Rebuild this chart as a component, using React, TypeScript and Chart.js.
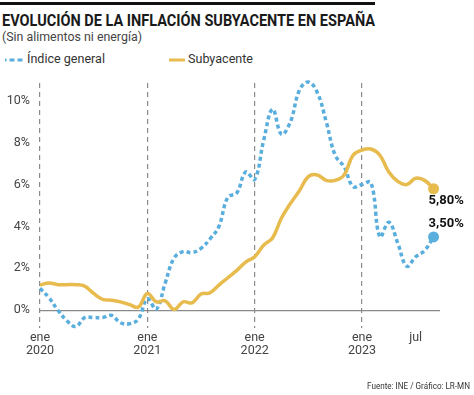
import React, { useEffect, useLayoutEffect, useRef } from "react";
import { Chart, registerables } from "chart.js";

Chart.register(...registerables);

// Monthly data, Jan 2020 .. Sep 2023 (index 0..44)
const generalIndex: number[] = [
  1.05, 0.6, 0.0, -0.5, -0.78, -0.35, -0.35, -0.35, -0.25, -0.6, -0.65, -0.42,
  0.55, 0.05, 1.3, 2.5, 2.8, 2.75, 2.95, 3.4, 4.0, 5.4, 5.6, 6.6,
  6.25, 8.1, 9.6, 8.4, 9.0, 10.5, 10.9, 10.4, 9.0, 7.4, 6.85, 5.9,
  6.0, 6.1, 3.5, 4.2, 3.2, 2.1, 2.55, 2.85, 3.5,
];
const coreIndex: number[] = [
  1.2, 1.3, 1.22, 1.22, 1.22, 1.15, 0.8, 0.52, 0.48, 0.4, 0.27, 0.15,
  0.8, 0.4, 0.45, 0.03, 0.4, 0.35, 0.77, 0.83, 1.2, 1.55, 1.9, 2.3,
  2.55, 3.1, 3.45, 4.4, 5.1, 5.7, 6.38, 6.46, 6.2, 6.2, 6.46, 7.4,
  7.65, 7.7, 7.4, 6.6, 6.15, 6.0, 6.3, 6.2, 5.8,
];
const xTickValues: number[] = [0, 12, 24, 36, 42];
const xTickLabels: string[][] = [
  ["ene", "2020"],
  ["ene", "2021"],
  ["ene", "2022"],
  ["ene", "2023"],
  ["jul"],
];
const yTickValues: number[] = [0, 2, 4, 6, 8, 10];
const seriesNames: string[] = ["Índice general", "Subyacente"];
const endLabels: string[] = ["3,50%", "5,80%"];

const BLUE = "#59AEDD";
const ORANGE = "#E8BB4E";
const FONT = "Roboto, 'Noto Sans', sans-serif";

function FitText(props: { text: string; width: number; left: number; top: number; style: React.CSSProperties }) {
  const ref = useRef<HTMLSpanElement>(null);
  useLayoutEffect(() => {
    const el = ref.current;
    if (!el) return;
    el.style.transform = "none";
    const w = el.getBoundingClientRect().width;
    if (w > 0) el.style.transform = `scaleX(${props.width / w})`;
  }, [props.text, props.width]);
  return (
    <span
      ref={ref}
      style={{
        position: "absolute",
        left: props.left,
        top: props.top,
        display: "inline-block",
        whiteSpace: "nowrap",
        transformOrigin: "left center",
        fontFamily: FONT,
        ...props.style,
      }}
    >
      {props.text}
    </span>
  );
}

const endLabelPlugin = {
  id: "endLabels",
  afterDatasetsDraw(chart: any) {
    const ctx = chart.ctx;
    ctx.save();
    ctx.font = `bold 13px ${FONT}`;
    ctx.fillStyle = "#111";
    ctx.textAlign = "left";
    ctx.textBaseline = "middle";
    chart.data.datasets.forEach((ds: any, i: number) => {
      const meta = chart.getDatasetMeta(i);
      const pt = meta.data[meta.data.length - 1];
      if (!pt) return;
      const dy = ds.label === seriesNames[0] ? -13 : 12;
      ctx.fillText(endLabels[i], pt.x - 5, pt.y + dy);
    });
    ctx.restore();
  },
};

export default function App() {
  const canvasRef = useRef<HTMLCanvasElement>(null);

  useEffect(() => {
    const canvas = canvasRef.current;
    if (!canvas) return;
    const lastIdx = generalIndex.length - 1;
    const radii = (n: number, r: number) => Array.from({ length: n }, (_, i) => (i === n - 1 ? r : 0));
    const chart = new Chart(canvas, {
      type: "line",
      data: {
        datasets: [
          {
            label: seriesNames[0],
            data: generalIndex.map((v, i) => ({ x: i, y: v })),
            borderColor: BLUE,
            backgroundColor: BLUE,
            borderWidth: 3.5,
            borderDash: [4, 3],
            borderCapStyle: "butt",
            tension: 0.4,
            pointRadius: radii(generalIndex.length, 5.5),
            pointBorderWidth: 0,
            pointBackgroundColor: BLUE,
            clip: false,
            order: 2,
          },
          {
            label: seriesNames[1],
            data: coreIndex.map((v, i) => ({ x: i, y: v })),
            borderColor: ORANGE,
            backgroundColor: ORANGE,
            borderWidth: 3.5,
            tension: 0.4,
            pointRadius: radii(coreIndex.length, 5.5),
            pointBorderWidth: 0,
            pointBackgroundColor: ORANGE,
            clip: false,
            order: 1,
          },
        ],
      },
      options: {
        responsive: false,
        animation: false,
        layout: { padding: { left: 0, right: 34, top: 83, bottom: 0 } },
        plugins: {
          legend: { display: false },
          tooltip: { enabled: false },
          title: { display: false },
        },
        scales: {
          x: {
            type: "linear",
            min: 0,
            max: 44.72,
            afterFit: (s: any) => {
              s.height = 67;
            },
            afterBuildTicks: (s: any) => {
              s.ticks = xTickValues.map((v) => ({ value: v }));
            },
            border: { display: false, dash: [5, 4] },
            grid: {
              drawTicks: false,
              color: (c: any) => (c.tick && c.tick.value !== 42 ? "#8a8a8a" : "transparent"),
              lineWidth: 1.2,
              borderDash: [5, 4],
            } as any,
            ticks: {
              padding: 3,
              autoSkip: false,
              maxRotation: 0,
              color: "#444",
              font: { family: FONT, size: 12.5, lineHeight: 1.08 },
              callback: (v: any) => {
                const i = xTickValues.indexOf(Number(v));
                return i >= 0 ? xTickLabels[i] : "";
              },
            },
          },
          y: {
            type: "linear",
            min: -0.85,
            max: 10.85,
            afterFit: (s: any) => {
              s.width = 40;
            },
            afterBuildTicks: (s: any) => {
              s.ticks = yTickValues.map((v) => ({ value: v }));
            },
            border: { display: false },
            grid: {
              drawTicks: false,
              color: (c: any) => (c.tick && c.tick.value === 0 ? "#8a8a8a" : "transparent"),
              lineWidth: 1.2,
            },
            ticks: {
              padding: 10,
              color: "#444",
              font: { family: FONT, size: 12.5 },
              callback: (v: any) => `${v}%`,
            },
          },
        },
      } as any,
      plugins: [endLabelPlugin],
    });
    void lastIdx;
    return () => chart.destroy();
  }, []);

  return (
    <div style={{ position: "absolute", left: 0, top: 0, width: 474, height: 395, background: "#fff", overflow: "hidden" }}>
      <div style={{ position: "absolute", left: 0, top: 2, width: 375, height: 3, background: "#111" }} />
      <FitText
        text="EVOLUCIÓN DE LA INFLACIÓN SUBYACENTE EN ESPAÑA"
        width={373}
        left={2}
        top={12.5}
        style={{ fontSize: 16, lineHeight: "16px", fontWeight: 700, color: "#1a1a1a" }}
      />
      <FitText
        text="(Sin alimentos ni energía)"
        width={140}
        left={2}
        top={31}
        style={{ fontSize: 12, lineHeight: "12px", color: "#444" }}
      />
      <svg style={{ position: "absolute", left: 0, top: 54 }} width={30} height={12}>
        <line x1={5} y1={6} x2={24} y2={6} stroke={BLUE} strokeWidth={3} strokeDasharray="1.5 3 5 3 5 3" />
      </svg>
      <FitText
        text={seriesNames[0]}
        width={78}
        left={27}
        top={53.2}
        style={{ fontSize: 12, lineHeight: "12px", color: "#333" }}
      />
      <svg style={{ position: "absolute", left: 165, top: 54 }} width={24} height={12}>
        <line x1={4} y1={6} x2={20} y2={6} stroke={ORANGE} strokeWidth={3} />
      </svg>
      <FitText
        text={seriesNames[1]}
        width={65}
        left={188}
        top={53.2}
        style={{ fontSize: 12, lineHeight: "12px", color: "#333" }}
      />
      <canvas
        ref={canvasRef}
        width={474}
        height={395}
        style={{ position: "absolute", left: 0, top: 0, width: 474, height: 395 }}
      />
      <FitText
        text="Fuente: INE / Gráfico: LR-MN"
        width={103}
        left={367}
        top={381.7}
        style={{ fontSize: 9, lineHeight: "9px", color: "#333" }}
      />
    </div>
  );
}
